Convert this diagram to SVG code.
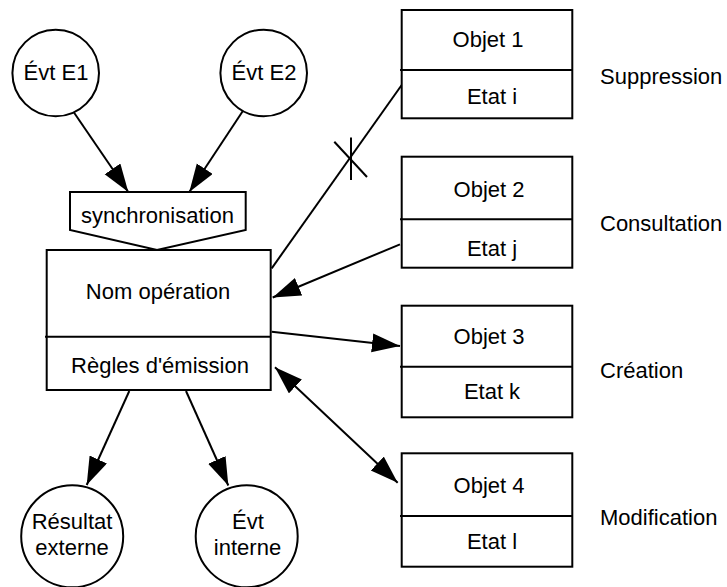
<svg xmlns="http://www.w3.org/2000/svg" width="727" height="587" viewBox="0 0 727 587">
<style>
.s{fill:none;stroke:#000;stroke-width:2}
.n{fill:#fff;stroke:#000;stroke-width:2}
text{font-family:"Liberation Sans",Arial,sans-serif;font-size:22px;fill:#000}
.m{text-anchor:middle}
.c{fill:none;stroke:#000;stroke-width:2}
</style>
<defs>
<marker id="ah" markerUnits="userSpaceOnUse" markerWidth="30" markerHeight="22" refX="28" refY="9.5" orient="auto-start-reverse">
<path d="M0,0 L28,9.5 L0,19 Z" fill="#000"/>
</marker>
</defs>
<rect width="727" height="587" fill="#fff"/>
<g id="connectors">
<line class="c" x1="70.7" y1="107.7" x2="128.3" y2="192" marker-end="url(#ah)"/>
<line class="c" x1="245" y1="107.7" x2="189.3" y2="192" marker-end="url(#ah)"/>
<line class="c" x1="401.7" y1="85" x2="271.7" y2="268.3"/>
<line class="c" x1="351" y1="137.5" x2="351" y2="180"/>
<line class="c" x1="334.3" y1="141.7" x2="367" y2="177"/>
<line class="c" x1="400" y1="244.3" x2="272.7" y2="297.5" marker-end="url(#ah)"/>
<line class="c" x1="271.7" y1="331.7" x2="400" y2="346" marker-end="url(#ah)"/>
<line class="c" x1="275" y1="367.3" x2="397.7" y2="482.7" marker-start="url(#ah)" marker-end="url(#ah)"/>
<line class="c" x1="129.3" y1="391" x2="86.7" y2="485" marker-end="url(#ah)"/>
<line class="c" x1="186" y1="391" x2="228.3" y2="485.5" marker-end="url(#ah)"/>
</g>
<g id="evt-e1"><circle class="n" cx="55.7" cy="73" r="43.3"/><text class="m" x="56" y="80">Évt E1</text></g>
<g id="evt-e2"><circle class="n" cx="263.7" cy="73" r="43.3"/><text class="m" x="264" y="80">Évt E2</text></g>
<g id="synchronisation"><path class="n" d="M70,192 L245.7,192 L245.7,230 L157,250 L70,230 Z"/><text class="m" x="157.5" y="223">synchronisation</text></g>
<g id="operation">
<rect class="n" x="46.7" y="250" width="224" height="140"/>
<line class="s" x1="45" y1="336.7" x2="270.7" y2="336.7"/>
<text class="m" x="158" y="299">Nom opération</text>
<text class="m" x="160" y="373">Règles d'émission</text>
</g>
<g id="resultat-externe"><circle class="n" cx="72.2" cy="536.3" r="51"/><text class="m" x="72" y="529">Résultat</text><text class="m" x="72" y="555">externe</text></g>
<g id="evt-interne"><circle class="n" cx="246.7" cy="536.3" r="51"/><text class="m" x="248" y="529">Évt</text><text class="m" x="247.5" y="555">interne</text></g>
<g id="objet1">
<rect class="n" x="401.7" y="10" width="170.6" height="108.3"/>
<line class="s" x1="400" y1="70" x2="572.3" y2="70"/>
<text class="m" x="488" y="47">Objet 1</text>
<text class="m" x="492" y="104">Etat i</text>
</g>
<g id="objet2">
<rect class="n" x="401.7" y="156.7" width="170.6" height="111"/>
<line class="s" x1="400" y1="219.3" x2="572.3" y2="219.3"/>
<text class="m" x="489" y="197">Objet 2</text>
<text class="m" x="492" y="256">Etat j</text>
</g>
<g id="objet3">
<rect class="n" x="401.7" y="305.7" width="170.6" height="111.6"/>
<line class="s" x1="400" y1="366.7" x2="572.3" y2="366.7"/>
<text class="m" x="489" y="344">Objet 3</text>
<text class="m" x="492" y="399">Etat k</text>
</g>
<g id="objet4">
<rect class="n" x="401.7" y="453.3" width="170.6" height="113.4"/>
<line class="s" x1="400" y1="516" x2="572.3" y2="516"/>
<text class="m" x="489" y="493">Objet 4</text>
<text class="m" x="492" y="549">Etat l</text>
</g>
<g id="labels">
<text x="600" y="84">Suppression</text>
<text x="600" y="231">Consultation</text>
<text x="600" y="378">Création</text>
<text x="600" y="525">Modification</text>
</g>
</svg>
